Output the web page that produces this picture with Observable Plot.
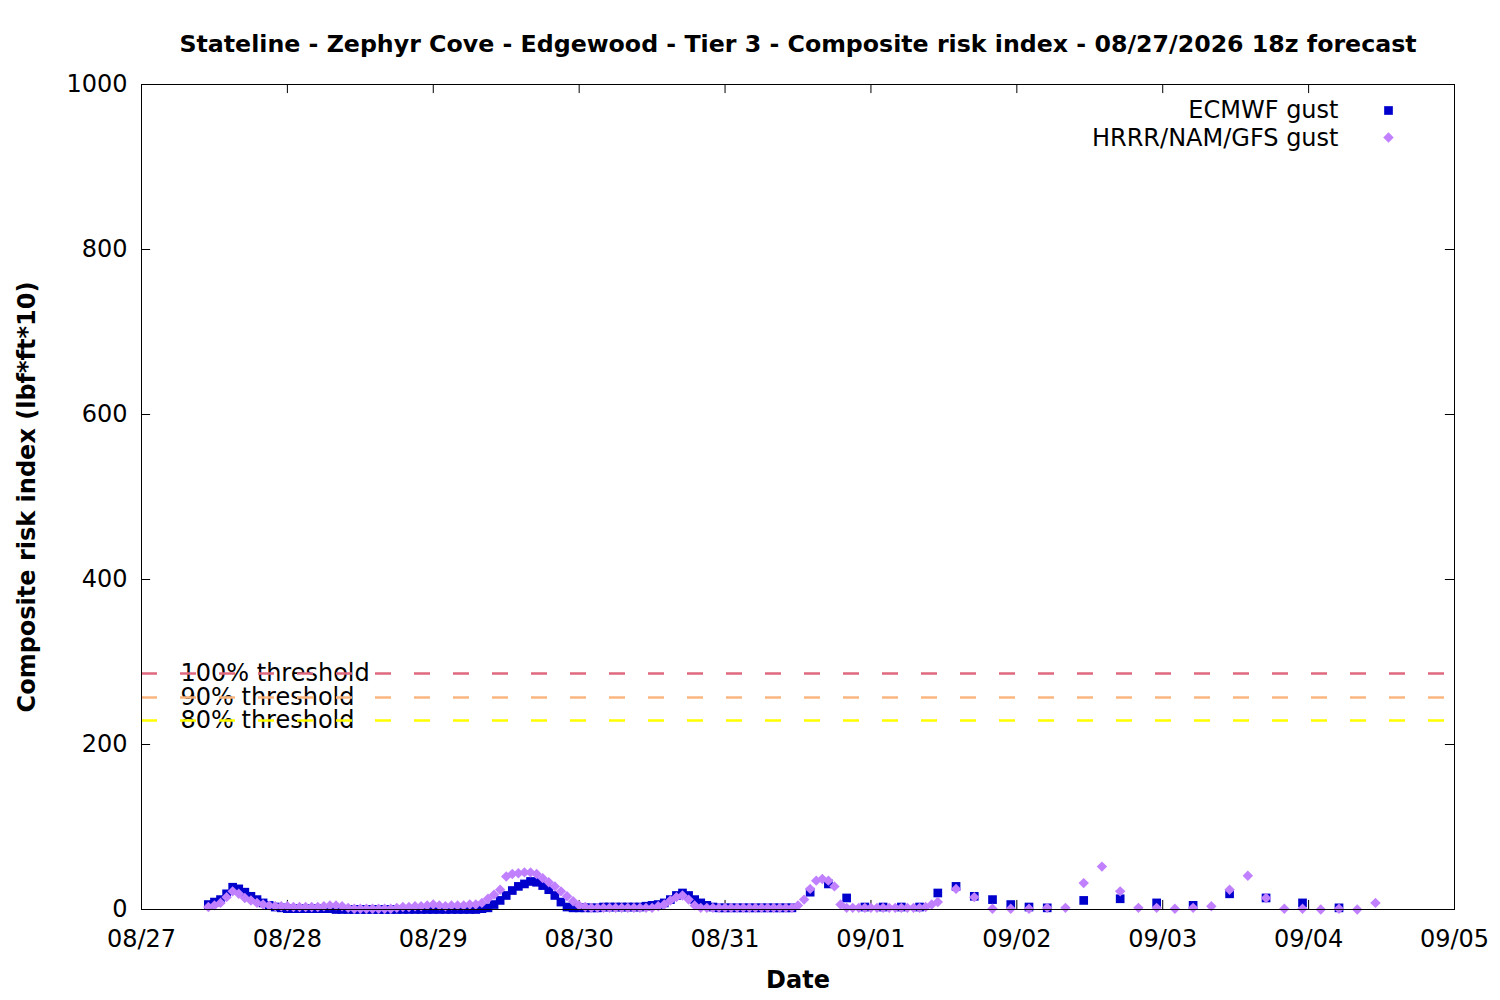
<!DOCTYPE html>
<html>
<head>
<meta charset="utf-8">
<script src="https://cdn.jsdelivr.net/npm/d3@7"></script>
<script src="https://cdn.jsdelivr.net/npm/@observablehq/plot@0.6"></script>
<style>
  html, body { margin: 0; padding: 0; background: #fff; }
  #chart { width: 1500px; height: 1000px; }
</style>
</head>
<body>
<div id="chart"></div>
<script>
// ---------- text ----------
const titleText = "Stateline - Zephyr Cove - Edgewood - Tier 3 - Composite risk index - 08/27/2026 18z forecast";
const xLabel = "Date";
const yLabel = "Composite risk index (lbf*ft*10)";
const seriesNames = ["ECMWF gust", "HRRR/NAM/GFS gust"];
const seriesColors = ["#0000cd", "#c080ff"];

// ---------- axes ----------
const dayTicks = ["2026-08-27", "2026-08-28", "2026-08-29", "2026-08-30", "2026-08-31",
                  "2026-09-01", "2026-09-02", "2026-09-03", "2026-09-04", "2026-09-05"];
const yTicks = [0, 200, 400, 600, 800, 1000];

// ---------- thresholds ----------
const thresholdLabels = ["100% threshold", "90% threshold", "80% threshold"];
const thresholdValues = [286, 257, 229];
const thresholdColors = ["#e0697f", "#fbb680", "#ffff00"];

// ---------- ECMWF gust ----------
// hourly from 08/27 11:00
const ecmwfHourlyStart = "2026-08-27T11:00Z";
const ecmwfHourly = [
  6, 9, 12, 19, 27, 25, 21, 16, 12, 8,
  5, 3, 2, 1, 1, 1, 1, 1, 1, 1,
  1, 0, 0, 0, 0, 0, 0, 0, 0, 0,
  0, 0, 0, 0, 0, 0, 0, 0, 0, 0,
  0, 0, 0, 0, 0, 1, 2, 6, 11, 17,
  23, 28, 31, 34, 33, 29, 24, 17, 9, 3,
  2, 2, 2, 2, 2, 3, 3, 3, 3, 3,
  3, 3, 4, 5, 6, 8, 12, 17, 20, 17,
  12, 8, 5, 3, 2, 2, 2, 2, 2, 2,
  2, 2, 2, 2, 2, 2, 2
];
// 3-hourly from 08/31 14:00
const ecmwf3hStart = "2026-08-31T14:00Z";
const ecmwf3h = [21, 31, 14, 3, 3, 3, 3, 20, 28, 16, 12, 6, 3, 2];
// 6-hourly from 09/02 11:00
const ecmwf6hStart = "2026-09-02T11:00Z";
const ecmwf6h = [11, 13, 8, 5, 19, 14, 8, 2];

// ---------- HRRR/NAM/GFS gust ----------
// hourly from 08/27 11:00
const hrrrHourlyStart = "2026-08-27T11:00Z";
const hrrrHourly = [
  3, 5, 8, 15, 22, 19, 14, 11, 8, 6,
  5, 4, 4, 4, 3, 3, 3, 3, 3, 4,
  5, 5, 4, 2, 1, 1, 1, 1, 1, 1,
  1, 2, 3, 3, 4, 4, 5, 6, 5, 4,
  5, 5, 5, 6, 6, 8, 13, 18, 24, 40,
  43, 44, 45, 45, 43, 38, 33, 28, 22, 16,
  10, 5, 3, 2, 2, 2, 2, 2, 2, 2,
  2, 2, 2, 2, 4, 6, 11, 15, 17, 12,
  5, 2, 2, 2, 2, 2, 2, 2, 2, 2,
  2, 2, 2, 2, 2, 2, 2, 5, 12, 25,
  35, 37, 35, 28, 6, 2, 2, 2, 2, 2,
  2, 2, 2, 2, 2, 2, 2, 2, 3, 6
];
// 3-hourly from 09/01 11:00
const hrrr3hStart = "2026-09-01T11:00Z";
const hrrr3h = [9, 25, 15, 1, 1, 1, 2, 2, 32, 52, 22, 2, 2, 1, 2, 4, 24, 41, 14, 1, 1, 0, 1, 0, 8];

// ---------- build tables ----------
const HOUR = 3600 * 1000;
function series(startIso, stepHours, values) {
  const t0 = new Date(startIso).getTime();
  return values.map((v, i) => ({ t: new Date(t0 + i * stepHours * HOUR), v }));
}
const ecmwfData = [
  ...series(ecmwfHourlyStart, 1, ecmwfHourly),
  ...series(ecmwf3hStart, 3, ecmwf3h),
  ...series(ecmwf6hStart, 6, ecmwf6h)
];
const hrrrData = [
  ...series(hrrrHourlyStart, 1, hrrrHourly),
  ...series(hrrr3hStart, 3, hrrr3h)
];
const dayDates = dayTicks.map(d => new Date(d + "T00:00Z"));
const xDomain = [dayDates[0], dayDates[dayDates.length - 1]];
const fmt = d3.utcFormat("%m/%d");

const FONT = "DejaVu Sans, Liberation Sans, sans-serif";
const fs = 24;
const titleFs = 23.7;
const tickLenY = 11;          // inward tick length in y units
const tickLenXh = 1.5 * HOUR; // inward tick length in time units

const chart = Plot.plot({
  width: 1500,
  height: 1000,
  marginLeft: 141,
  marginRight: 46,
  marginTop: 84,
  marginBottom: 91,
  style: { fontFamily: FONT, fontSize: fs + "px", color: "black", background: "white", overflow: "visible" },
  x: { type: "utc", domain: xDomain },
  y: { domain: [0, 1000] },
  marks: [
    Plot.axisX({ ticks: dayDates, tickFormat: fmt, tickSize: 0, tickPadding: 20, label: null, fontSize: fs }),
    Plot.axisY({ ticks: yTicks, tickFormat: d => String(d), tickSize: 0, tickPadding: 14, label: null, fontSize: fs }),
    // inward ticks: bottom & top
    Plot.ruleX(dayDates, { x: d => d, y1: () => 0, y2: () => tickLenY, stroke: "black" }),
    Plot.ruleX(dayDates, { x: d => d, y1: () => 1000 - tickLenY, y2: () => 1000, stroke: "black" }),
    // inward ticks: left & right
    Plot.ruleY(yTicks, { y: d => d, x1: () => xDomain[0], x2: () => new Date(xDomain[0].getTime() + tickLenXh), stroke: "black" }),
    Plot.ruleY(yTicks, { y: d => d, x1: () => new Date(xDomain[1].getTime() - tickLenXh), x2: () => xDomain[1], stroke: "black" }),
    // threshold labels then dashed lines
    Plot.text(thresholdValues, { y: d => d, text: (d, i) => thresholdLabels[i], frameAnchor: "left", dx: 39, textAnchor: "start", lineAnchor: "middle", fill: "black", fontSize: fs }),
    ...thresholdValues.map((v, i) =>
      Plot.ruleY([v], { stroke: thresholdColors[i], strokeWidth: 2.5, strokeDasharray: "16,23" })
    ),
    // data
    Plot.dot(ecmwfData, { x: "t", y: "v", symbol: "square", r: 4.9, fill: seriesColors[0], stroke: "none" }),
    Plot.dot(hrrrData, { x: "t", y: "v", symbol: "diamond2", r: 4.7, fill: seriesColors[1], stroke: "none" }),
    // frame
    Plot.frame({ stroke: "black", strokeWidth: 1 }),
    // legend
    Plot.text([seriesNames[0]], { frameAnchor: "top-right", dx: -116, dy: 26, textAnchor: "end", lineAnchor: "middle", fontSize: fs }),
    Plot.text([seriesNames[1]], { frameAnchor: "top-right", dx: -116, dy: 54, textAnchor: "end", lineAnchor: "middle", fontSize: fs }),
    Plot.dot([seriesNames[0]], { frameAnchor: "top-right", dx: -66, dy: 26, symbol: "square", r: 4.9, fill: seriesColors[0], stroke: "none" }),
    Plot.dot([seriesNames[1]], { frameAnchor: "top-right", dx: -66, dy: 53, symbol: "diamond2", r: 4.7, fill: seriesColors[1], stroke: "none" }),
    // title and axis labels
    Plot.text([titleText], { frameAnchor: "top", dy: -40, textAnchor: "middle", lineAnchor: "middle", fontWeight: "bold", fontSize: titleFs }),
    Plot.text([xLabel], { frameAnchor: "bottom", dy: 71, textAnchor: "middle", lineAnchor: "middle", fontWeight: "bold", fontSize: fs }),
    Plot.text([yLabel], { frameAnchor: "left", dx: -114, rotate: -90, textAnchor: "middle", lineAnchor: "middle", fontWeight: "bold", fontSize: fs })
  ]
});
document.getElementById("chart").appendChild(chart);
</script>
</body>
</html>
